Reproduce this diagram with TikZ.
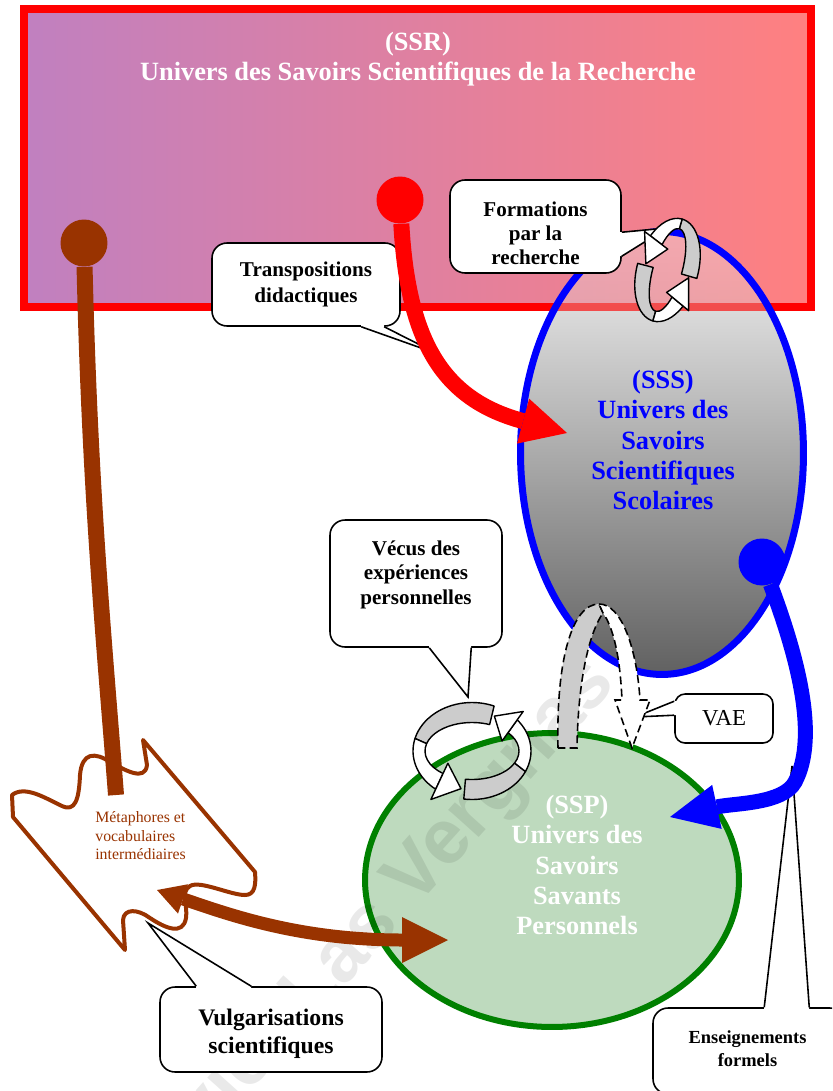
\documentclass[tikz,border=0pt]{standalone}
\usepackage{fontspec}
\setmainfont{Liberation Serif}
\newfontfamily\wmfont{Liberation Sans}
\usetikzlibrary{arrows.meta, positioning, calc, shapes.geometric}
\definecolor{ssrred}{RGB}{255,0,0}
\definecolor{ssrleft}{RGB}{192,128,192}
\definecolor{ssrright}{RGB}{255,128,128}
\definecolor{sssblue}{RGB}{0,0,255}
\definecolor{sspgreen}{RGB}{0,128,0}
\definecolor{sspfill}{RGB}{190,218,190}
\definecolor{vulgbrown}{RGB}{153,51,0}
\definecolor{bandgray}{RGB}{204,204,204}

\tikzset{
  callbox/.style={draw=black, line width=0.9pt, fill=white, rounded corners=0.3cm, inner sep=0pt},
  calltext/.style={align=center, inner sep=0pt},
  ptrline/.style={draw=black, line width=0.9pt},
  dot/.style={circle, inner sep=0pt, minimum size=0.94cm},
  bigtext/.style={align=center, inner sep=0pt, font=\bfseries\fontsize{15}{17.1}\selectfont},
  ringline/.style={draw=black, line width=0.8pt, line join=round},
  vaeline/.style={draw=black, line width=0.9pt, dash pattern=on 4.5pt off 2.5pt},
  wave/.style={draw=vulgbrown, line width=0.08cm, fill=white, line join=round},
  wmark/.style={inner sep=0pt, text=black, text opacity=0.085, font=\wmfont\bfseries\fontsize{44}{44}\selectfont}
}

% pointer of a callout: base points #1 #2, tip #3, shift into the box #4
\newcommand{\callptr}[4]{%
  \fill[white] ($#1+#4$) -- #1 -- #3 -- #2 -- ($#2+#4$) -- cycle;
  \draw[ptrline] #1 -- #3 -- #2;
}
% piece of a ring arrow: fill, rx, ry, hx, hy, from, to
\newcommand{\ringband}[7]{%
  \pgfmathsetmacro\rxo{#2+#4}\pgfmathsetmacro\ryo{#3+#5}%
  \pgfmathsetmacro\rxi{#2-#4}\pgfmathsetmacro\ryi{#3-#5}%
  \filldraw[ringline, fill=#1] ({#6}:{\rxo} and {\ryo})
    arc[start angle=#6, end angle=#7, x radius=\rxo, y radius=\ryo]
    -- ({#7}:{\rxi} and {\ryi})
    arc[start angle=#7, end angle=#6, x radius=\rxi, y radius=\ryi] -- cycle;
}
% head of a ring arrow: rx, ry, hx, hy, base angle, tip angle, factor
\newcommand{\ringhead}[7]{%
  \pgfmathsetmacro\rxo{#1+#7*#3}\pgfmathsetmacro\ryo{#2+#7*#4}%
  \pgfmathsetmacro\rxi{#1-#7*#3}\pgfmathsetmacro\ryi{#2-#7*#4}%
  \filldraw[ringline, fill=white] ({#5}:{\rxo} and {\ryo}) -- ({#6}:{#1} and {#2})
    -- ({#5}:{\rxi} and {\ryi}) -- cycle;
}

\begin{document}
\begin{tikzpicture}[x=0.02cm, y=-0.02cm]
  \useasboundingbox (0,0) rectangle (832,1091);
  \clip (0,0) rectangle (832,1091);

  % SSR : research
  \draw[ssrred, line width=0.16cm, left color=ssrleft, right color=ssrright] (24,9) rectangle (811,307);
  \node[bigtext, text=white] (ssrtxt) at (418,59.5) {(SSR)\\Univers des Savoirs Scientifiques de la Recherche};

  % SSS : school
  \begin{scope}
    \clip (0,311) rectangle (832,1091);
    \shade[top color=black!4, bottom color=black!62] (662,453) ellipse [x radius=141.5, y radius=221.5];
  \end{scope}
  \begin{scope}
    \clip (0,0) rectangle (832,311);
    \shade[top color=black!4, bottom color=black!62, opacity=0.35] (662,453) ellipse [x radius=141.5, y radius=221.5];
  \end{scope}
  \node[ellipse, draw=sssblue, line width=0.14cm, minimum width=5.66cm, minimum height=8.86cm, inner sep=0pt] (sss) at (662,453) {};
  \node[bigtext, text=sssblue] (ssstxt) at (663,440) {(SSS)\\Univers des\\Savoirs\\Scientifiques\\Scolaires};

  % SSP : personal
  \node[ellipse, draw=sspgreen, fill=sspfill, line width=0.12cm, minimum width=7.48cm, minimum height=5.88cm, inner sep=0pt] (ssp) at (552,880) {};
  \node[bigtext, text=white] (ssptxt) at (577,865) {(SSP)\\Univers des\\Savoirs\\Savants\\Personnels};

  % watermark
  \node[wmark, rotate=48] (wmtxt) at (362,938) {Olivier Las Vergnas};

  % metaphors
  \filldraw[wave] (143,740) -- (147,765)
    .. controls (145,782) and (125,770) .. (110,762)
    .. controls (95,752) and (82,752) .. (80,775)
    .. controls (79,800) and (75,812) .. (62,806)
    .. controls (45,798) and (25,785) .. (12,795)
    -- (13,817) -- (125,950) -- (123,920)
    .. controls (124,908) and (138,909) .. (150,918)
    .. controls (165,928) and (183,936) .. (186,918)
    .. controls (188,905) and (180,892) .. (190,886)
    .. controls (200,880) and (230,895) .. (245,895)
    .. controls (255,895) and (256,885) .. (255,872) -- cycle;
  \node[align=left, inner sep=0pt, text=vulgbrown, font=\fontsize{9}{10.5}\selectfont, anchor=west] (metatxt) at (95,836) {Métaphores et\\vocabulaires\\intermédiaires};

  % callouts
  \node[callbox, minimum width=3.76cm, minimum height=1.66cm] (trans) at (306,284.5) {};
  \node[callbox, minimum width=3.42cm, minimum height=1.86cm] (form) at (535.5,226.5) {};
  \node[callbox, minimum width=3.44cm, minimum height=2.54cm] (vecus) at (416,583.5) {};
  \node[callbox, minimum width=1.96cm, minimum height=0.98cm, rounded corners=0.2cm] (vae) at (724,718.5) {};
  \node[callbox, minimum width=4.44cm, minimum height=1.7cm] (vulg) at (271,1029.5) {};
  \node[callbox, minimum width=3.84cm, minimum height=1.72cm] (ens) at (749,1051) {};

  \coordinate (transtip) at (438,354);
  \coordinate (transA) at ($(trans.south west)+(150,0)$);
  \coordinate (transB) at ($(trans.south west)+(173,0)$);
  \coordinate (formtip) at (667,228);
  \coordinate (formA) at ($(form.north east)+(0,53)$);
  \coordinate (formB) at ($(form.north east)+(0,77)$);
  \coordinate (vecustip) at (468,697);
  \coordinate (vecusA) at ($(vecus.south west)+(100,0)$);
  \coordinate (vecusB) at ($(vecus.south west)+(142,0)$);
  \coordinate (vaetip) at (635,717);
  \coordinate (vaeA) at ($(vae.north west)+(0,8)$);
  \coordinate (vaeB) at ($(vae.north west)+(0,22)$);
  \coordinate (vulgtip) at (148,923);
  \coordinate (vulgA) at ($(vulg.north west)+(37,0)$);
  \coordinate (vulgB) at ($(vulg.north west)+(92,0)$);
  \coordinate (enstip) at (792,766);
  \coordinate (ensA) at ($(ens.north west)+(112,0)$);
  \coordinate (ensB) at ($(ens.north west)+(157,0)$);

  \callptr{(transA)}{(transB)}{(transtip)}{(0,-4)}
  \callptr{(formA)}{(formB)}{(formtip)}{(-4,0)}
  \callptr{(vecusA)}{(vecusB)}{(vecustip)}{(0,-4)}
  \callptr{(vaeA)}{(vaeB)}{(vaetip)}{(4,0)}
  \callptr{(vulgA)}{(vulgB)}{(vulgtip)}{(0,4)}
  \callptr{(ensA)}{(ensB)}{(enstip)}{(0,4)}

  \node[calltext, font=\bfseries\fontsize{12}{14.7}\selectfont] (transtxt) at (trans.center) {Transpositions\\didactiques};
  \node[calltext, font=\bfseries\fontsize{12}{13.6}\selectfont] (formtxt) at ($(form.center)+(0,6.5)$) {Formations\\par la\\recherche};
  \node[calltext, font=\bfseries\fontsize{12}{13.9}\selectfont] (vecustxt) at ($(vecus.center)+(0,-9)$) {Vécus des\\expériences\\personnelles};
  \node[calltext, font=\fontsize{13}{15}\selectfont] (vaetxt) at (vae.center) {VAE};
  \node[calltext, font=\bfseries\fontsize{13.5}{15.9}\selectfont] (vulgtxt) at ($(vulg.center)+(0,4)$) {Vulgarisations\\scientifiques};
  \node[calltext, font=\bfseries\fontsize{10.5}{13}\selectfont] (enstxt) at ($(ens.center)+(-1.5,-2.5)$) {Enseignements\\formels};

  % flows
  \node[dot, fill=ssrred] (rdot) at (400,200) {};
  \node[dot, fill=vulgbrown] (bdot) at (84,243) {};
  \node[dot, fill=sssblue] (bldot) at (762,562) {};
  \coordinate (ssstip) at (567,433);
  \coordinate (wavein) at (116,795);
  \coordinate (vulgstart) at (157,890);
  \coordinate (ssptip) at (448,940);
  \coordinate (sspblue) at (670,817);

  \draw[line width=0.32cm, ssrred, -{Triangle[length=0.91cm, width=0.93cm, line width=0pt]}] (rdot) .. controls (408,345) and (445,400) .. (ssstip);
  \draw[line width=0.32cm, vulgbrown] (bdot) .. controls (90,500) and (105,650) .. (wavein);
  \draw[line width=0.26cm, vulgbrown, {Triangle[length=0.55cm, width=0.62cm, line width=0pt]}-{Triangle[length=0.92cm, width=0.92cm, line width=0pt]}] (vulgstart) .. controls (230,915) and (300,940) .. (ssptip);
  \draw[line width=0.3cm, sssblue, -{Triangle[length=0.96cm, width=0.9cm, line width=0pt]}] (bldot) .. controls (795,650) and (820,735) .. (795,782) .. controls (783,804) and (735,803) .. (sspblue);

  % ring arrows
  \begin{scope}[shift={(667.5,270)}, rotate=-16, yscale=-1]
    \ringband{bandgray}{22.5}{48}{8}{5}{0}{90}
    \ringband{white}{22.5}{48}{8}{5}{90}{148}
    \ringhead{22.5}{48}{8}{5}{148}{180}{2}
    \ringband{bandgray}{22.5}{48}{8}{5}{182}{270}
    \ringband{white}{22.5}{48}{8}{5}{270}{325}
    \ringhead{22.5}{48}{8}{5}{325}{358}{2}
  \end{scope}
  \begin{scope}[shift={(472,751)}, yscale=-1]
    \ringband{bandgray}{53}{38.5}{6}{10}{68}{165}
    \ringband{white}{53}{38.5}{6}{10}{165}{232}
    \ringhead{53}{38.5}{6}{10}{232}{258}{2.3}
    \ringband{bandgray}{53}{38.5}{6}{10}{262}{335}
    \ringband{white}{53}{38.5}{6}{10}{335}{400}
    \ringhead{53}{38.5}{6}{10}{400}{425}{2.3}
  \end{scope}

  % VAE
  \filldraw[vaeline, fill=bandgray] (558,748) .. controls (556,660) and (572,604) .. (599,604) -- (603,613)
    .. controls (589,633) and (578,680) .. (577,748) -- cycle;
  \filldraw[vaeline, fill=white] (599,604) .. controls (622,604) and (637,650) .. (640,700) -- (650,700) -- (632,748)
    -- (615,700) -- (622,700) .. controls (620,655) and (613,627) .. (603,613) -- cycle;
\end{tikzpicture}
\end{document}
